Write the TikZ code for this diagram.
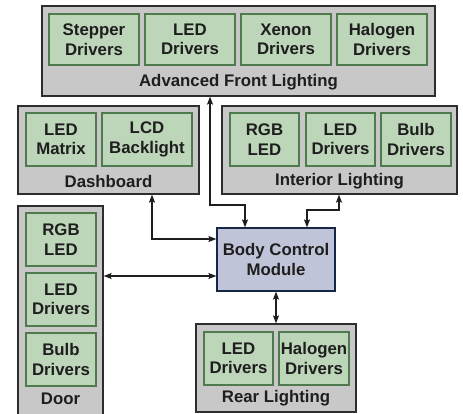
\documentclass[tikz,border=0pt]{standalone}
\usepackage{fontspec}
\setmainfont{Liberation Sans}
\usetikzlibrary{arrows.meta}
\definecolor{outerfill}{RGB}{200,200,201}
\definecolor{outerline}{RGB}{45,45,45}
\definecolor{greenfill}{RGB}{189,214,185}
\definecolor{greenline}{RGB}{78,122,78}
\definecolor{bcmfill}{RGB}{192,196,216}
\definecolor{bcmline}{RGB}{22,38,70}
\definecolor{txt}{RGB}{30,30,30}
\begin{document}
\begin{tikzpicture}[x=1pt,y=-1pt,
  outer/.style={draw=outerline,fill=outerfill,line width=1.2pt,inner sep=0pt},
  inner/.style={draw=greenline,fill=greenfill,line width=1.2pt,inner sep=0pt,
    text=txt,font=\fontsize{16.8}{19.5}\selectfont\bfseries,align=center},
  lbl/.style={text=txt,font=\fontsize{16.8}{19.5}\selectfont\bfseries,inner sep=0pt},
  conn/.style={draw=txt,line width=1.3pt,{Stealth[length=8pt,width=6pt,inset=1.5pt]}-{Stealth[length=8pt,width=6pt,inset=1.5pt]}}
]
\useasboundingbox (0,0) rectangle (463,413);
\fill[white] (0,0) rectangle (463,413);
\begin{scope}
\clip (0,0) rectangle (463,413);
% outer boxes
\node[outer,minimum width=393pt,minimum height=90pt] (afl) at (238.5,51) {};
\node[outer,minimum width=181pt,minimum height=88pt] (dash) at (108.5,150) {};
\node[outer,minimum width=235pt,minimum height=88pt] (intl) at (339.5,150) {};
\node[outer,minimum width=85pt,minimum height=212pt] (door) at (60.5,312) {};
\node[outer,minimum width=160pt,minimum height=88pt] (rear) at (276,368) {};
\node[draw=bcmline,fill=bcmfill,line width=1.2pt,minimum width=118pt,minimum height=63pt,
  text=txt,font=\fontsize{16.8}{19.5}\selectfont\bfseries,align=center,inner sep=0pt] (bcm) at (276,259.5) {Body Control\\Module};
% labels
\node[lbl] (afll) at (238.5,82) {Advanced Front Lighting};
\node[lbl] (dashl) at (108.5,181) {Dashboard};
\node[lbl] (intll) at (339.5,181) {Interior Lighting};
\node[lbl] (doorl) at (60.5,399) {Door};
\node[lbl] (rearl) at (276,398) {Rear Lighting};
% AFL inner
\node[inner,minimum width=90pt,minimum height=51pt] (a1) at (94,39.5) {Stepper\\Drivers};
\node[inner,minimum width=90pt,minimum height=51pt] (a2) at (190,39.5) {LED\\Drivers};
\node[inner,minimum width=90pt,minimum height=51pt] (a3) at (286,39.5) {Xenon\\Drivers};
\node[inner,minimum width=90pt,minimum height=51pt] (a4) at (382,39.5) {Halogen\\Drivers};
% Dashboard inner
\node[inner,minimum width=70pt,minimum height=53pt] (d1) at (61,139.5) {LED\\Matrix};
\node[inner,minimum width=90pt,minimum height=53pt] (d2) at (147,139.5) {LCD\\Backlight};
% Interior inner
\node[inner,minimum width=69pt,minimum height=53pt] (i1) at (264.5,139.5) {RGB\\LED};
\node[inner,minimum width=69pt,minimum height=53pt] (i2) at (340.5,139.5) {LED\\Drivers};
\node[inner,minimum width=70pt,minimum height=53pt] (i3) at (416,139.5) {Bulb\\Drivers};
% Door inner
\node[inner,minimum width=70pt,minimum height=53pt] (o1) at (61,239.5) {RGB\\LED};
\node[inner,minimum width=70pt,minimum height=53pt] (o2) at (61,299.5) {LED\\Drivers};
\node[inner,minimum width=70pt,minimum height=53pt] (o3) at (61,359.5) {Bulb\\Drivers};
% Rear inner
\node[inner,minimum width=69pt,minimum height=53pt] (r1) at (238.5,358.5) {LED\\Drivers};
\node[inner,minimum width=70pt,minimum height=53pt] (r2) at (314,358.5) {Halogen\\Drivers};
\end{scope}
% connectors
\coordinate (j1) at (210,205);
\coordinate (j2) at (339,210);
\coordinate (j3) at (152,239);
\coordinate (j4) at (0,276);
\draw[conn] (afl.south -| j1) -- (j1) -| ([xshift=-31pt]bcm.north);
\draw[conn] (intl.south -| j2) -- (j2) -| ([xshift=31pt]bcm.north);
\draw[conn] (dash.south -| j3) -- (j3) -- (bcm.west |- j3);
\draw[conn] (door.east |- j4) -- (bcm.west |- j4);
\draw[conn] (bcm.south) -- (rear.north);
\end{tikzpicture}
\end{document}
